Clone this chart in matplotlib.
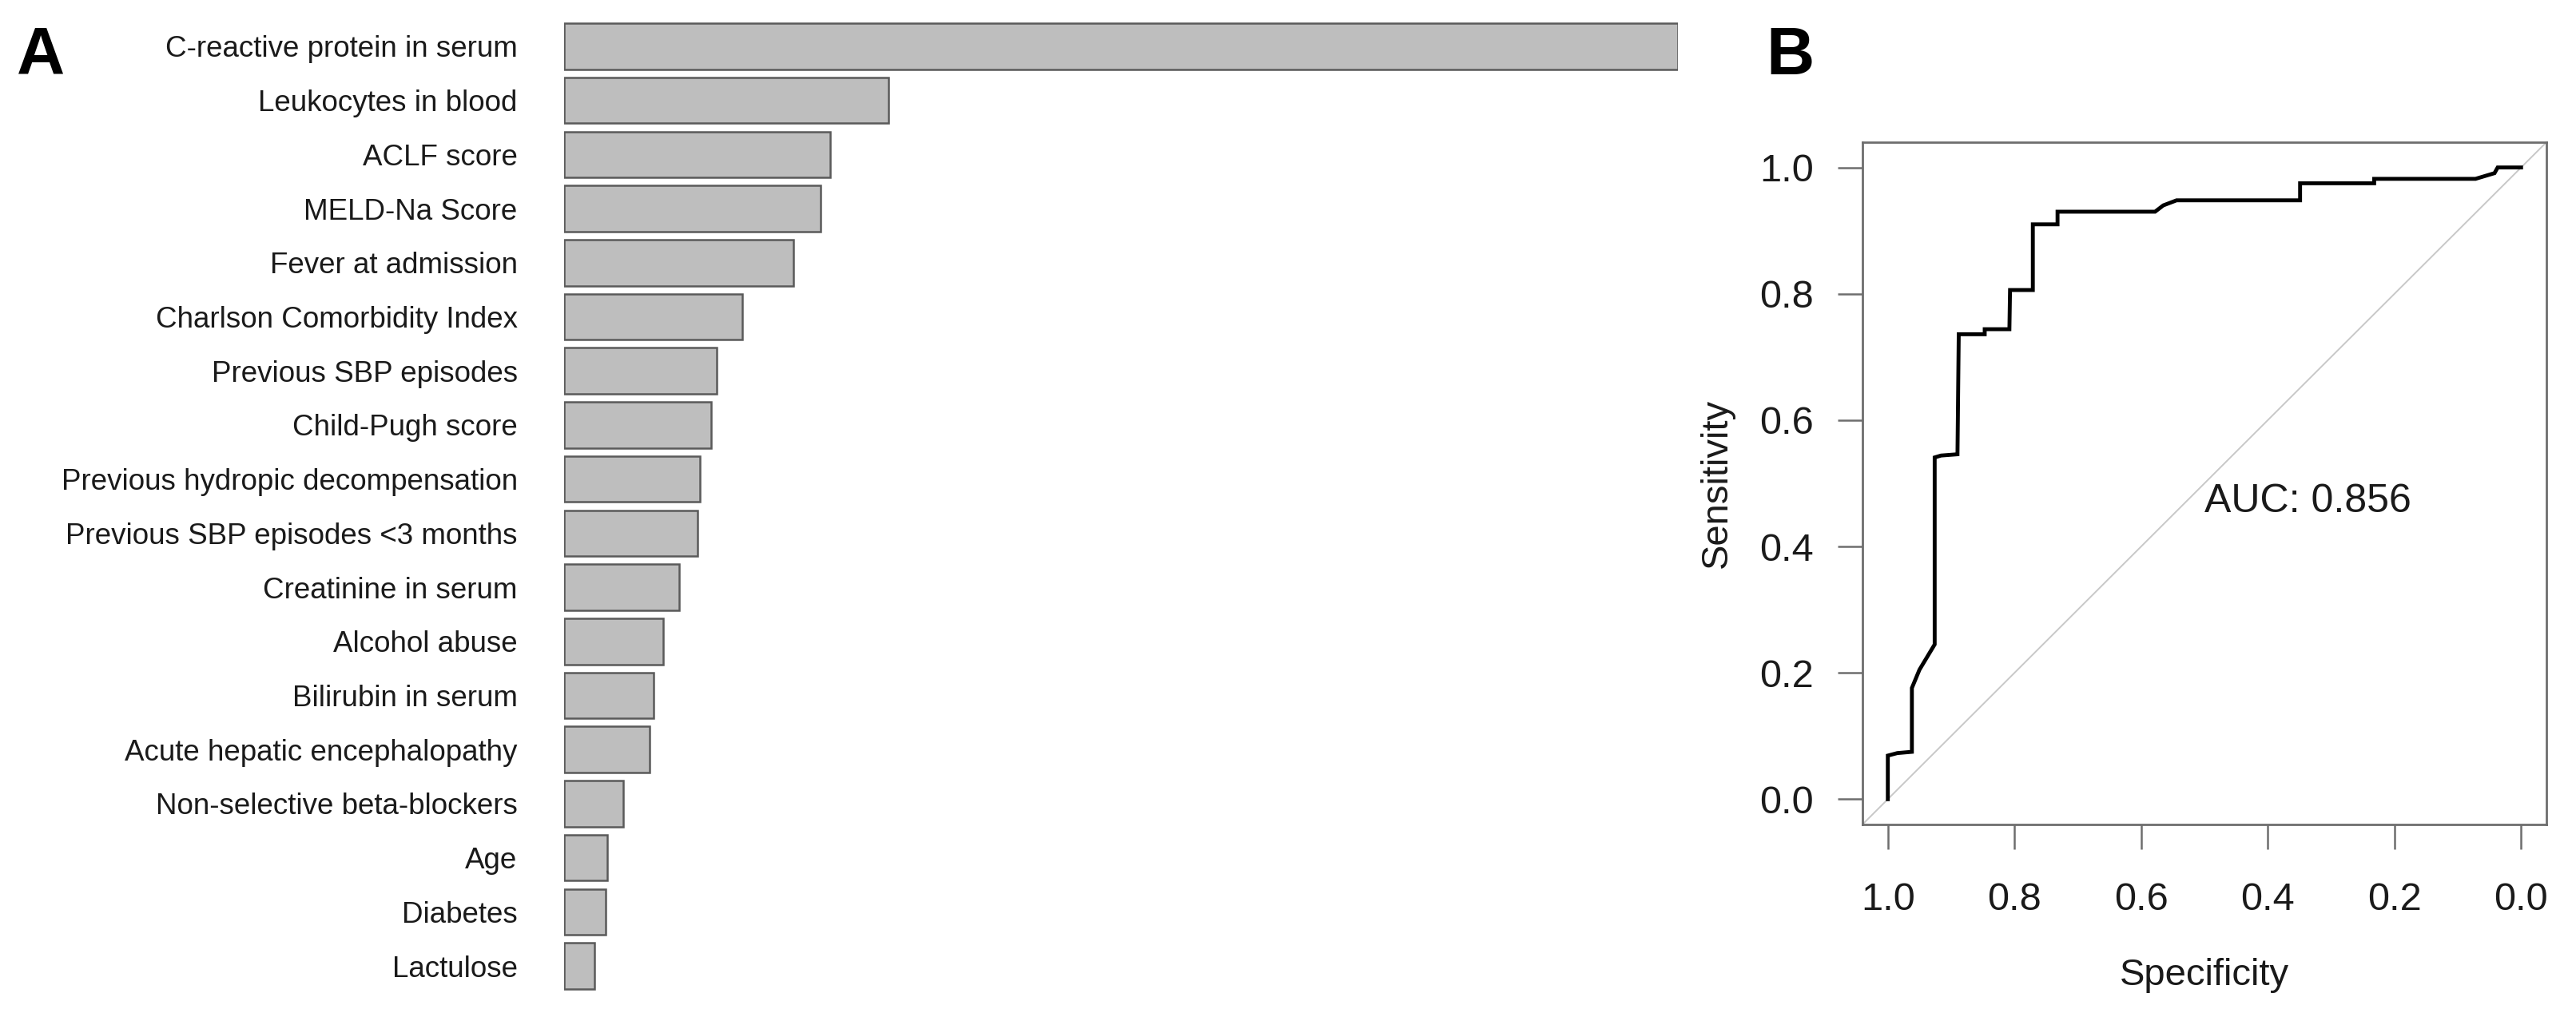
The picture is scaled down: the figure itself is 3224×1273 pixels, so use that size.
import numpy as np
import matplotlib
matplotlib.use("Agg")
import matplotlib.pyplot as plt

plt.rcParams['font.family'] = ['Liberation Sans', 'DejaVu Sans']

# panel A: variable importance (relative)
variables = [
    "C-reactive protein in serum",
    "Leukocytes in blood",
    "ACLF score",
    "MELD-Na Score",
    "Fever at admission",
    "Charlson Comorbidity Index",
    "Previous SBP episodes",
    "Child-Pugh score",
    "Previous hydropic decompensation",
    "Previous SBP episodes <3 months",
    "Creatinine in serum",
    "Alcohol abuse",
    "Bilirubin in serum",
    "Acute hepatic encephalopathy",
    "Non-selective beta-blockers",
    "Age",
    "Diabetes",
    "Lactulose",
]
importance = [100.0, 29.1, 23.9, 23.0, 20.6, 16.0, 13.7, 13.2, 12.2, 12.0,
              10.3, 8.9, 8.0, 7.7, 5.3, 3.9, 3.7, 2.7]

# panel B: ROC curve points
specificity = [1.0, 1.0, 0.985, 0.962, 0.962, 0.950, 0.926, 0.926, 0.916, 0.890,
               0.888, 0.847, 0.847, 0.808, 0.807, 0.771, 0.771, 0.732, 0.732,
               0.578, 0.565, 0.544, 0.349, 0.349, 0.232, 0.232, 0.072, 0.042,
               0.037, 0.0]
sensitivity = [0.0, 0.069, 0.073, 0.075, 0.176, 0.205, 0.245, 0.541, 0.544, 0.546,
               0.736, 0.736, 0.744, 0.744, 0.806, 0.806, 0.910, 0.910, 0.930,
               0.930, 0.940, 0.948, 0.948, 0.975, 0.975, 0.982, 0.982, 0.991,
               1.0, 1.0]
auc_text = "AUC: 0.856"

W, H = 3224, 1273
fig = plt.figure(figsize=(W / 100, H / 100), dpi=100)

# ---- panel A
axA = fig.add_axes([706 / W, 1 - 1243 / H, 1394 / W, 1219 / H])
ypos = np.arange(len(variables))
axA.barh(ypos, importance, height=0.85, color='#bebebe', edgecolor='#5a5a5a',
         linewidth=1.8)
axA.set_xlim(0, 100)
axA.set_ylim(len(variables) - 0.5, -0.5)
axA.set_yticks(ypos)
axA.set_yticklabels(variables, fontsize=26.5, color='#1a1a1a')
axA.tick_params(axis='y', length=0, pad=42)
axA.set_xticks([])
for s in axA.spines.values():
    s.set_visible(False)

# ---- panel B
axB = fig.add_axes([2331 / W, 1 - 1032 / H, 856 / W, 854 / H])
axB.plot([1.04, -0.04], [-0.04, 1.04], color='#c8c8c8', linewidth=1.4)
axB.plot(specificity, sensitivity, color='black', linewidth=3.5,
         solid_joinstyle='miter')
axB.set_xlim(1.04, -0.04)
axB.set_ylim(-0.04, 1.04)
ticks = [1.0, 0.8, 0.6, 0.4, 0.2, 0.0]
axB.set_xticks(ticks)
axB.set_yticks(ticks)
axB.set_xticklabels([f"{t:.1f}" for t in ticks])
axB.set_yticklabels([f"{t:.1f}" for t in ticks])
axB.tick_params(direction='out', length=22, width=1.8, color='#6e6e6e',
                labelsize=35, labelcolor='#1a1a1a')
axB.tick_params(axis='x', pad=30)
axB.tick_params(axis='y', pad=22)
for s in axB.spines.values():
    s.set_color('#6e6e6e')
    s.set_linewidth(2.0)
axB.set_xlabel("Specificity", fontsize=34, color='#1a1a1a', va='center')
axB.set_ylabel("Sensitivity", fontsize=34, color='#1a1a1a', va='center')
axB.xaxis.set_label_coords(0.5, -0.2213)
axB.yaxis.set_label_coords(-0.2126, 0.5)
axB.text(0.5, 0.5, auc_text, fontsize=36, ha='left', va='top',
         color='#1a1a1a')

# panel letters
fig.text(21 / W, 1 - 93 / H, "A", fontsize=60, fontweight='bold',
         va='baseline', ha='left')
fig.text(2210 / W, 1 - 93 / H, "B", fontsize=60, fontweight='bold',
         va='baseline', ha='left')

fig.savefig("out.png", dpi=100, facecolor='white')
